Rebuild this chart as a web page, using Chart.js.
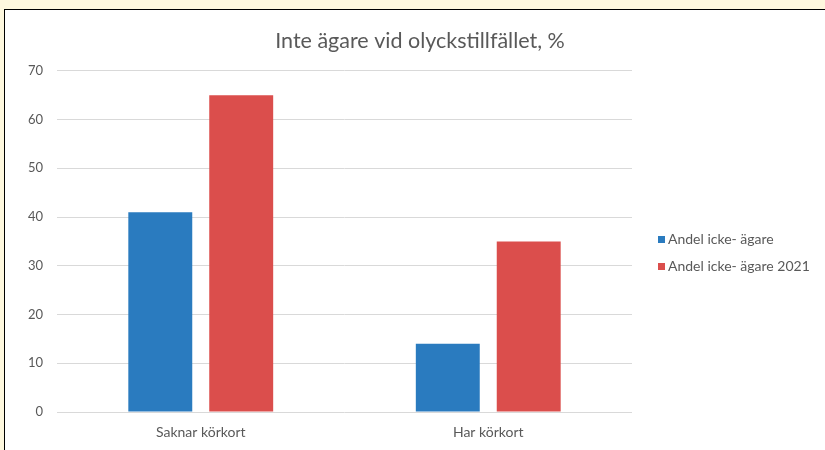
<!DOCTYPE html>
<html>
<head>
<meta charset="utf-8">
<script src="https://cdn.jsdelivr.net/npm/chart.js@4"></script>
<style>
  body { margin: 0; background: #fef8de; width: 825px; height: 450px; overflow: hidden; position: relative; font-family: Lato, sans-serif; }
  #box { position: absolute; left: 4px; top: 9px; width: 840px; height: 460px; border: 1px solid #000; background: #fff; }
  #wrap { position: absolute; left: 0; top: 0; width: 830px; height: 441px; }
  #legend { position: absolute; left: 653px; top: 220px; font-size: 14px; color: #595959; }
  #legend div { height: 27px; line-height: 18px; }
  #legend span { display: inline-block; width: 7px; height: 7px; margin-right: 3px; vertical-align: 1px; }
</style>
</head>
<body>
<div id="box">
  <div id="wrap"><canvas id="myChart"></canvas></div>
  <div id="legend"></div>
</div>
<script>
const categories = ['Saknar körkort', 'Har körkort'];
const seriesNames = ['Andel icke- ägare', 'Andel icke- ägare 2021'];
const andelIckeAgare = [41, 14];
const andelIckeAgare2021 = [65, 35];
const yTicks = [0, 10, 20, 30, 40, 50, 60, 70];
const colors = ['#2a7bbf', '#db4e4c'];

const legend = document.getElementById('legend');
seriesNames.forEach((name, i) => {
  const row = document.createElement('div');
  row.innerHTML = '<span style="background:' + colors[i] + '"></span>' + name;
  legend.appendChild(row);
});

const canvaBar = document.getElementById('myChart');
const myChart = new Chart(canvaBar, {
  type: 'bar',
  data: {
    labels: categories,
    datasets: [
      { label: seriesNames[0], data: andelIckeAgare, backgroundColor: colors[0] },
      { label: seriesNames[1], data: andelIckeAgare2021, backgroundColor: colors[1] }
    ]
  },
  options: {
    responsive: true,
    maintainAspectRatio: false,
    animation: false,
    categoryPercentage: 0.563,
    barPercentage: 0.79,
    layout: { padding: { left: 0, right: 0, top: 0, bottom: 9 } },
    plugins: {
      legend: { display: false },
      tooltip: { enabled: false },
      title: {
        display: true,
        text: 'Inte ägare vid olyckstillfället, %',
        color: '#595959',
        font: { family: 'Lato', size: 21.5, weight: 'normal' },
        padding: { top: 18, bottom: 17 }
      }
    },
    scales: {
      x: {
        afterFit: (scale) => { scale.height = 30; },
        grid: { display: false },
        border: { display: false },
        ticks: { color: '#595959', font: { family: 'Lato', size: 14 }, padding: 4 }
      },
      y: {
        min: 0,
        max: 70,
        afterFit: (scale) => { scale.width = 52; },
        afterBuildTicks: (scale) => { scale.ticks = yTicks.map(v => ({ value: v })); },
        grid: { color: '#d9d9d9', drawTicks: false },
        border: { display: false },
        ticks: { color: '#595959', font: { family: 'Lato', size: 13 }, padding: 14 }
      },
      // empty right-hand space for the legend
      y2: {
        position: 'right',
        display: true,
        afterFit: (scale) => { scale.width = 203; },
        grid: { display: false },
        border: { display: false },
        ticks: { display: false }
      }
    }
  }
});
</script>
</body>
</html>
